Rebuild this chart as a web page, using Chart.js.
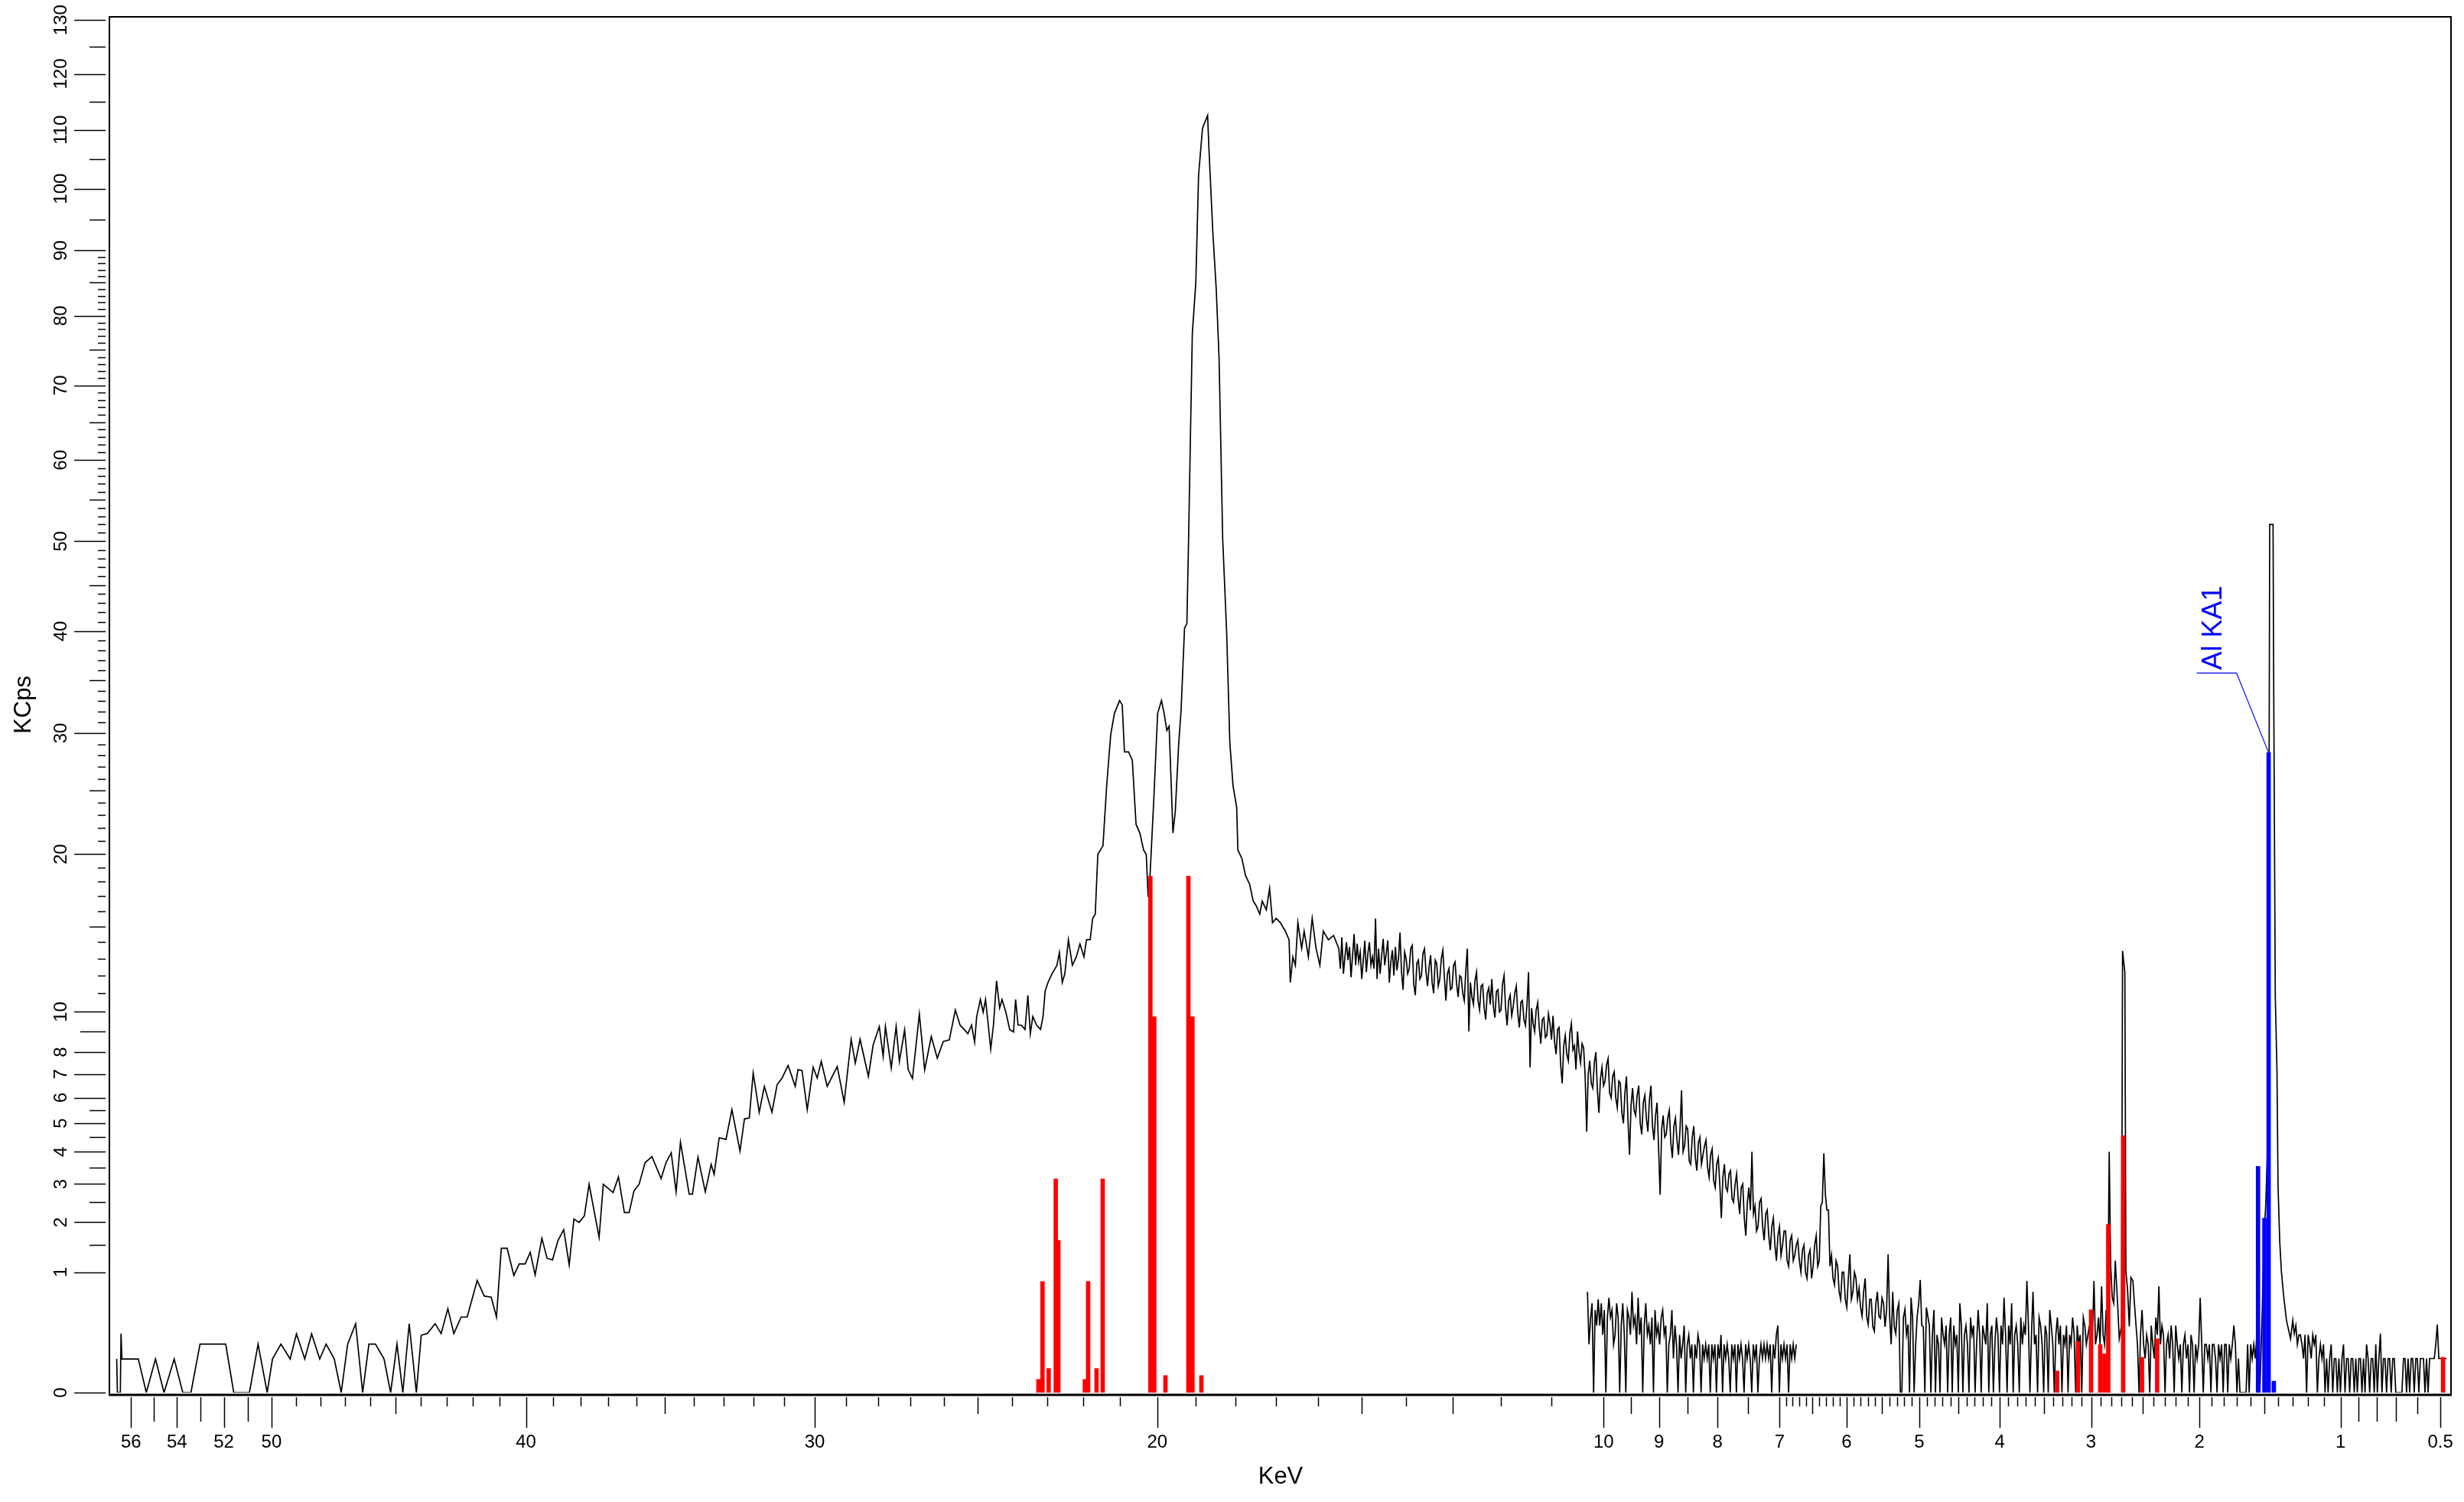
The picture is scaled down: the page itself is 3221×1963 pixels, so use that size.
<!DOCTYPE html>
<html>
<head>
<meta charset="utf-8">
<title>KCps / KeV</title>
<script src="https://cdn.jsdelivr.net/npm/chart.js@4.4.1/dist/chart.umd.min.js"></script>
<style>
  html, body { margin: 0; padding: 0; background: #fff; }
  #wrap { width: 3221px; height: 1963px; }
</style>
</head>
<body>
<div id="wrap"><canvas id="spectrum" width="3221" height="1963"></canvas></div>
<script>
// ---- data ----------------------------------------------------------------

// main trace, high-energy side, point by point: [keV, KCps]
const traceHigh = [
  [56.63, 0.078], [56.60, 0], [56.47, 0], [56.44, 0.24], [56.40, 0.078], [55.68, 0.078], [55.33, 0],
  [54.93, 0.078], [54.56, 0], [54.12, 0.078], [53.75, 0], [53.40, 0], [53.01, 0.162], [51.92, 0.162],
  [51.58, 0], [50.92, 0], [50.56, 0.162], [50.18, 0], [49.96, 0.078], [49.61, 0.162], [49.23, 0.078],
  [48.97, 0.238], [48.63, 0.078], [48.35, 0.238], [48.02, 0.078], [47.76, 0.162], [47.43, 0.078],
  [47.15, 0], [46.89, 0.162], [46.57, 0.327], [46.29, 0], [46.04, 0.162], [45.78, 0.162], [45.44, 0.078],
  [45.18, 0], [44.93, 0.162], [44.70, 0], [44.45, 0.327],
  [44.17, 0], [43.98, 0.227], [43.75, 0.24], [43.44, 0.328], [43.21, 0.24], [42.95, 0.486], [42.72, 0.24],
  [42.44, 0.394], [42.21, 0.394], [41.83, 0.867], [41.56, 0.642], [41.30, 0.629], [41.10, 0.394],
  [40.92, 1.436], [40.70, 1.436], [40.45, 0.946], [40.25, 1.142], [40.03, 1.142], [39.84, 1.358],
  [39.66, 0.956], [39.41, 1.642], [39.22, 1.245], [39.02, 1.214], [38.82, 1.593], [38.61, 1.831],
  [38.41, 1.125], [38.24, 2.077], [38.05, 1.998], [37.86, 2.157], [37.69, 2.995], [37.33, 1.663],
  [37.18, 2.995], [36.83, 2.761], [36.64, 3.209], [36.43, 2.239], [36.26, 2.239], [36.09, 2.807],
  [35.91, 2.995], [35.70, 3.647], [35.46, 3.839], [35.14, 3.160], [34.97, 3.647], [34.79, 3.970],
  [34.62, 2.779], [34.47, 4.329], [34.17, 2.716], [34.06, 2.716], [33.87, 3.828], [33.62, 2.779],
  [33.42, 3.595], [33.32, 3.288], [33.15, 4.479], [32.92, 4.421], [32.72, 5.526], [32.45, 4.025],
  [32.30, 5.169], [32.14, 5.207], [32.01, 7.044], [31.81, 5.423], [31.64, 6.471], [31.39, 5.423],
  [31.22, 6.541], [31.06, 6.826], [30.86, 7.385], [30.63, 6.471], [30.54, 7.191], [30.41, 7.162],
  [30.24, 5.526], [30.05, 7.310], [29.92, 6.826], [29.79, 7.566], [29.60, 6.471], [29.28, 7.340],
  [29.06, 5.815], [28.84, 8.615], [28.71, 7.490], [28.56, 8.615], [28.30, 6.898], [28.15, 8.343],
  [27.96, 9.242], [27.84, 7.795], [27.77, 9.242], [27.59, 7.266], [27.44, 9.242], [27.34, 7.566],
  [27.18, 9.075], [27.07, 7.191], [26.94, 6.806], [26.73, 9.890], [26.57, 7.191], [26.37, 8.746],
  [26.19, 7.718], [26.01, 8.503], [25.83, 8.583], [25.65, 10.099],
  [25.51, 9.317], [25.39, 9.101], [25.28, 8.889], [25.17, 9.317], [25.08, 8.471], [25.02, 9.755],
  [24.91, 10.661], [24.83, 9.978], [24.76, 10.661], [24.68, 9.317], [24.61, 8.143], [24.53, 9.317],
  [24.44, 11.705], [24.35, 10.203], [24.28, 10.661], [24.17, 9.978], [24.06, 9.101], [23.95, 8.973],
  [23.89, 10.661], [23.82, 9.317], [23.73, 9.317], [23.62, 9.101], [23.54, 10.894], [23.47, 8.889],
  [23.40, 9.755], [23.29, 9.317], [23.18, 9.101], [23.11, 9.755], [23.05, 11.130], [22.97, 11.608],
  [22.86, 12.097], [22.72, 12.595], [22.65, 13.362], [22.57, 11.608], [22.50, 12.097], [22.40, 14.151],
  [22.29, 12.595], [22.18, 13.104], [22.08, 13.885], [21.97, 13.104], [21.90, 14.151], [21.80, 14.151],
  [21.73, 15.517], [21.66, 15.798], [21.59, 19.993], [21.45, 20.633], [21.35, 25.391], [21.24, 29.863],
  [21.14, 31.833], [21.00, 33.045], [20.93, 32.639], [20.87, 28.332], [20.76, 28.332], [20.66, 27.582],
  [20.56, 22.275], [20.46, 21.610], [20.36, 20.311], [20.29, 19.993], [20.24, 16.946], [20.19, 18.438],
  [20.09, 24.330], [19.99, 31.833], [19.89, 33.045], [19.82, 31.833], [19.75, 30.252], [19.69, 30.644],
  [19.59, 21.610], [19.53, 23.29], [19.44, 29.093], [19.38, 32.074], [19.29, 40.343], [19.23, 40.795],
  [19.19, 49.359], [19.09, 77.429], [19.00, 85.102], [18.93, 102.25], [18.83, 110.30], [18.70, 112.55],
  [18.67, 107.3], [18.57, 93.14], [18.48, 83.80], [18.41, 73.73], [18.35, 57.66], [18.32, 50.36],
  [18.22, 39.89], [18.14, 29.09], [18.06, 25.39], [17.97, 23.64], [17.94, 20.31], [17.84, 19.68],
  [17.75, 18.44], [17.65, 17.84], [17.56, 16.66], [17.49, 16.37], [17.40, 15.80], [17.34, 16.66],
  [17.24, 16.08], [17.16, 17.54], [17.09, 15.24], [17.00, 15.52], [16.90, 15.24], [16.78, 14.69],
  [16.69, 14.15], [16.66, 11.61], [16.60, 13.10], [16.54, 12.60], [16.48, 15.24], [16.39, 13.62],
  [16.33, 14.69], [16.23, 13.10], [16.14, 15.52], [16.05, 13.62], [15.96, 12.60], [15.88, 14.69],
  [15.76, 14.15], [15.64, 14.42]
];

// noisy stretches, read at equal steps along the keV axis: [first keV, last keV] + values
const tailRange = [15.519, 4.908];
const tailKCps = [
  13.6, 12.4, 14.3, 12.1, 13.1, 14.0, 12.9, 13.7, 11.9, 13.2, 14.5, 12.6, 13.9, 12.8, 13.4, 11.8, 12.9, 14.1, 12.2, 13.3,
  14.0, 12.6, 13.1, 12.4, 15.5, 11.8, 13.6, 12.1, 13.2, 14.2, 12.6, 13.3, 14.1, 11.6, 12.8, 13.5, 12.0, 13.7, 12.3, 13.0,
  14.6, 12.2, 11.2, 13.4, 13.0, 12.1, 12.4, 13.6, 13.8, 11.5, 10.9, 12.7, 12.9, 11.8, 12.0, 13.3, 13.6, 12.2, 11.4, 12.5,
  13.2, 11.6, 11.0, 12.9, 12.7, 11.4, 11.8, 13.0, 13.5, 11.9, 10.6, 12.1, 12.4, 11.2, 11.3, 12.6, 12.8, 11.5, 10.8, 12.0,
  11.9, 11.0, 10.6, 12.3, 13.6, 9.0, 11.6, 10.8, 10.4, 11.7, 12.2, 10.6, 10.1, 11.4, 11.5, 10.2, 9.6, 11.0, 11.3, 10.4,
  11.8, 10.3, 9.7, 11.1, 11.2, 10.0, 10.1, 11.5, 12.0, 10.2, 9.3, 10.6, 10.9, 9.8, 10.3, 11.0, 11.4, 9.9, 9.2, 10.5,
  10.6, 9.6, 9.3, 10.4, 12.2, 7.3, 10.2, 9.4, 9.0, 10.1, 10.5, 9.2, 8.4, 9.6, 9.7, 8.7, 8.8, 9.9, 9.4, 8.6,
  9.8, 8.5, 7.9, 9.1, 9.2, 7.4, 6.6, 8.3, 8.8, 7.9, 7.6, 8.9, 9.4, 8.1, 8.3, 7.2, 9.0, 8.0, 7.5, 8.4,
  8.2, 6.9, 4.7, 7.0, 7.6, 6.6, 6.4, 7.5, 8.0, 6.3, 5.4, 6.8, 7.3, 6.5, 6.7, 7.4, 7.7, 6.2, 6.0, 6.9,
  7.1, 6.0, 5.6, 6.7, 6.6, 5.4, 5.0, 6.2, 6.9, 5.1, 3.9, 5.7, 6.4, 5.5, 5.3, 6.1, 6.5, 5.0, 4.6, 5.8,
  6.1, 5.2, 4.7, 5.9, 6.5, 4.9, 4.4, 5.3, 5.8, 4.1, 2.7, 4.8, 5.3, 4.5, 4.6, 5.2, 5.5, 4.3, 3.8, 4.9,
  5.2, 4.4, 3.9, 4.8, 6.3, 4.0, 4.2, 4.9, 4.8, 3.7, 3.6, 4.5, 4.9, 3.8, 3.4, 4.3, 4.5, 3.6, 3.9, 4.2,
  4.4, 3.5, 3.2, 3.9, 4.1, 3.1, 2.9, 3.6, 3.8, 3.0, 2.1, 3.2, 3.6, 2.9, 2.8, 3.3, 3.4, 2.6, 2.5, 3.0,
  3.3, 2.6, 2.2, 2.9, 3.0, 2.1, 1.7, 2.5, 2.9, 2.3, 4.0, 2.2, 2.4, 1.8, 1.9, 2.5, 2.6, 1.9, 1.6, 2.2,
  2.3, 1.7, 1.4, 1.9, 2.1, 1.5, 1.2, 1.7, 1.9, 1.3, 1.5, 1.8, 1.8, 1.2, 1.1, 1.6, 1.7, 1.2, 1.3, 1.5,
  1.6, 1.2, 1.0, 1.4, 1.5, 1.0, 0.9, 1.3, 1.4, 0.9, 1.1, 1.5, 1.7, 1.1, 1.2, 2.4, 2.5, 3.95, 2.7, 2.3,
  2.3, 1.1, 1.3, 0.9, 0.8, 1.2, 1.1, 0.7, 0.6, 1.0, 1.0, 0.6, 0.5, 0.9, 1.32, 0.6, 0.7, 1.0, 0.9, 0.6,
  0.75, 0.5, 0.4, 0.7, 0.9, 0.4, 0.32, 0.6, 0.6, 0.3, 0.26, 0.55, 0.7, 0.4, 0.38, 0.62, 0.55, 0.3, 0.47, 1.32,
  0.4, 0.16, 0.7, 0.3, 0.24, 0.47, 0.55, 0, 0, 0.39, 0.48, 0.23, 0.32, 0, 0.62, 0.39, 0, 0.16, 0.4, 0.55,
  0.875, 0.31, 0.3, 0, 0.5
];

const lowRange = [4.869, 2.759];
const lowKCps = [
  0.31, 0, 0.23, 0.47, 0, 0.23, 0.16, 0, 0.39, 0.23,
  0.16, 0.31, 0, 0.23, 0.39, 0, 0.31, 0.16, 0.23, 0,
  0.55, 0.31, 0, 0.23, 0.31, 0.16, 0, 0.39, 0.23, 0.31,
  0, 0.16, 0.47, 0.23, 0, 0.31, 0.23, 0.16, 0.55, 0,
  0.23, 0.31, 0, 0.16, 0.39, 0.23, 0, 0.31, 0.16, 0.62,
  0.23, 0, 0.31, 0.16, 0.55, 0, 0.23, 0.31, 0.16, 0,
  0.39, 0.16, 0.31, 0.23, 0.86, 0.31, 0, 0.23, 0.7, 0.16,
  0.23, 0, 0.39, 0.31, 0.16, 0, 0.31, 0.23, 0, 0.47,
  0.31, 0.16, 0, 0.23, 0.39, 0.16, 0.31, 0, 0.23, 0.16,
  0.31, 0, 0.23, 0.16, 0.39, 0.23, 0, 0.31, 0.16, 0.23,
  0, 0.39, 0.31, 0.16, 0.23, 0.31, 0, 0.23, 0.86, 0.16,
  0.23, 0.39, 0.16, 0.78, 0.23, 0.16, 0.47, 0.31, 4.0, 1.09,
  0.62, 0.55, 1.2
];

const rhPeak = [
  [2.7367, 0.55], [2.7205, 0.2], [2.699, 0.303], [2.6887, 13.46], [2.6667, 12.19],
  [2.6566, 1.01], [2.6406, 0.73], [2.6244, 0.303], [2.6085, 0.914]
];

const midRange = [2.5902, 1.552];
const midKCps = [
  0.86, 0.55, 0.32, 0.16, 0, 0.24, 0.47, 0.16, 0.08, 0.23,
  0.16, 0, 0.31, 0.16, 0.08, 0.39, 0.23, 0.78, 0.16, 0.31,
  0.23, 0, 0.16, 0.23, 0.08, 0.31, 0.16, 0, 0.31, 0.16,
  0.08, 0.16, 0, 0.16, 0.23, 0.08, 0.16, 0, 0.23, 0.16,
  0, 0.16, 0.08, 0.16, 0.62, 0.16, 0, 0.16, 0.16, 0.08,
  0.16, 0, 0.16, 0.16, 0.08, 0, 0.16, 0.08, 0.16, 0,
  0.16, 0.16, 0, 0.16, 0.08, 0.16, 0.31, 0.16, 0, 0.08,
  0, 0, 0, 0, 0, 0.16, 0, 0.16, 0.08, 0.16,
  0.08, 0.23
];

const alPeak = [
  [1.545, 0.16], [1.530, 0], [1.512, 0.5], [1.4992, 1.72], [1.4872, 2.45], [1.4692, 5.0],
  [1.4593, 52], [1.4355, 52], [1.4317, 36.6], [1.4199, 10.8], [1.4082, 7.2], [1.4007, 2.95],
  [1.3891, 1.59], [1.3774, 1.01], [1.3621, 0.647], [1.3428, 0.36], [1.3149, 0.2]
];

const softRange = [1.3003, 0.4749];
const softKCps = [
  0.36, 0.24, 0.31, 0.16, 0.23, 0.23, 0.16, 0.08, 0.23, 0,
  0.23, 0.16, 0.08, 0.23, 0.16, 0.23, 0, 0.08, 0.16, 0.08,
  0.16, 0, 0.08, 0, 0.08, 0.16, 0, 0.08, 0.08, 0,
  0.08, 0, 0.08, 0.16, 0, 0.08, 0.08, 0, 0.08, 0.08,
  0, 0.08, 0, 0.08, 0.08, 0, 0.08, 0, 0.16, 0.08,
  0, 0.08, 0.08, 0, 0.16, 0, 0.08, 0.24, 0, 0.08,
  0.08, 0, 0.08, 0.08, 0, 0.08, 0.08, 0, 0, 0,
  0, 0, 0.08, 0.08, 0, 0.08, 0, 0.08, 0.08, 0,
  0.08, 0.08, 0, 0.08, 0.08, 0.08, 0, 0.08, 0, 0.08,
  0.08, 0.08, 0.08, 0.16, 0.32, 0.08, 0.08, 0.08, 0.08, 0.08,
  0.08
];

// second, weak trace between 10.3 and 6.7 keV
const blockRange = [10.303, 6.745];
const blockKCps = [
  0.70, 0.16, 0.38, 0.55, 0, 0.47, 0.31, 0.60, 0.31, 0.55,
  0.23, 0.47, 0, 0.39, 0.62, 0.39, 0.47, 0.16, 0.23, 0.55,
  0.39, 0, 0.31, 0.55, 0.23, 0, 0.47, 0.39, 0.23, 0.70,
  0.31, 0.39, 0.16, 0.62, 0.23, 0.39, 0, 0.31, 0.55, 0.23,
  0.31, 0.16, 0.39, 0, 0.47, 0.23, 0.31, 0.16, 0.39, 0.47,
  0.23, 0.31, 0, 0.16, 0.23, 0.47, 0.08, 0.31, 0.16, 0,
  0.23, 0.08, 0.16, 0.31, 0, 0.16, 0.23, 0.08, 0.16, 0,
  0.16, 0.08, 0.23, 0.16, 0, 0.16, 0.08, 0.16, 0.08, 0.16,
  0, 0.16, 0.08, 0.16, 0, 0.16, 0.08, 0.23, 0, 0.16,
  0.08, 0.16, 0.08, 0, 0.16, 0.08, 0.16, 0, 0.16, 0.08,
  0.16, 0.08, 0, 0.16, 0.08, 0.16, 0.08, 0, 0.16, 0.08,
  0.16, 0, 0.08, 0.16, 0.08, 0.16, 0.08, 0.16, 0.08, 0.16,
  0, 0.16, 0.08, 0.23, 0.31, 0, 0.16, 0.08, 0.16, 0.08,
  0.16, 0, 0.16, 0.08, 0.16, 0.08, 0.16
];

// line markers
const redLinesKeV = [23.24, 23.125, 22.952, 22.752, 22.68, 21.945, 21.855, 21.624, 21.457,
  20.181, 20.08, 19.786, 19.191, 19.087, 18.859,
  3.355, 3.135, 3.0, 2.908, 2.866, 2.828, 2.683, 2.505, 2.366, 0.489];
const redLinesKCps = [0.012, 0.85, 0.04, 3.15, 1.6, 0.012, 0.85, 0.04, 3.15,
  18.4, 9.75, 0.02, 18.4, 9.75, 0.02,
  0.032, 0.18, 0.473, 0.159, 0.104, 1.95, 4.55, 0.086, 0.2, 0.086];
const blueLinesKeV = [1.543, 1.497, 1.4668, 1.430];
const blueLinesKCps = [3.53, 2.1, 28.26, 0.009];
const lineLabel = { text: 'Al KA1', keV: 1.4668, kcps: 28.26 };

// axis labels
const xTickLabels = [56, 54, 52, 50, 40, 30, 20, 10, 9, 8, 7, 6, 5, 4, 3, 2, 1, 0.5];
const yTickLabels = [0, 1, 2, 3, 4, 5, 6, 7, 8, 10, 20, 30, 40, 50, 60, 70, 80, 90, 100, 110, 120, 130];

// ---- helpers ---------------------------------------------------------------

function pairs(list) {
  return list.map(p => ({ x: p[0], y: p[1] }));
}

// values were read at equal steps along the square-root keV axis
function along(range, values) {
  const a = Math.sqrt(range[0]), b = Math.sqrt(range[1]);
  const n = values.length - 1;
  return values.map((v, i) => {
    const s = a + (b - a) * i / n;
    return { x: s * s, y: v };
  });
}

const mainTrace = [].concat(
  pairs(traceHigh), along(tailRange, tailKCps), along(lowRange, lowKCps), pairs(rhPeak),
  along(midRange, midKCps), pairs(alPeak), along(softRange, softKCps)
);
const blockTrace = along(blockRange, blockKCps);

const markerData = [];
const markerColors = [];
redLinesKeV.forEach((e, i) => { markerData.push({ x: e, y: redLinesKCps[i] }); markerColors.push('#ff0000'); });
blueLinesKeV.forEach((e, i) => { markerData.push({ x: e, y: blueLinesKCps[i] }); markerColors.push('#0000ff'); });

// tick marks without labels
const xMid1 = [55, 53, 51, 0.9, 0.8, 0.7];
const xMid2 = [45, 35, 25, 15, 13, 9.5, 8.5, 7.5, 6.5, 5.5, 4.5, 3.5, 2.5, 1.5, 0.6];
const xMinor = [];
for (let k = 11; k <= 49; k++) if (k % 5 !== 0 && k !== 13) xMinor.push(k);
for (let t = 11; t <= 69; t++) if (t % 5 !== 0) xMinor.push(t / 10);
const yMid = [1.5, 2.5, 3.5, 4.5, 5.5];
for (let k = 15; k <= 125; k += 10) yMid.push(k);
const yMinor = [];
for (let k = 11; k <= 89; k++) if (k % 5 !== 0) yMinor.push(k);

// ---- square-root scale -----------------------------------------------------

class SqrtScale extends Chart.LinearScale {
  bounds() { return [Math.sqrt(Math.max(this.min, 0)), Math.sqrt(this.max)]; }
  getPixelForValue(value) {
    if (value === null || value === undefined || isNaN(value)) return NaN;
    const [lo, hi] = this.bounds();
    return this.getPixelForDecimal((Math.sqrt(Math.max(value, 0)) - lo) / (hi - lo));
  }
  getValueForPixel(pixel) {
    const [lo, hi] = this.bounds();
    const s = lo + this.getDecimalForPixel(pixel) * (hi - lo);
    return s * s;
  }
}
SqrtScale.id = 'sqrt';
SqrtScale.defaults = {};
Chart.register(SqrtScale);

// frame, tick marks and the line label
const decorations = {
  id: 'decorations',
  afterDraw(chart) {
    const { ctx, chartArea: a, scales: { x, y } } = chart;
    ctx.save();
    ctx.strokeStyle = '#000';
    ctx.lineWidth = 1.5;
    ctx.beginPath();
    const xTop = a.bottom + 6;
    [[xTickLabels, 40], [xMid1, 32], [xMid2, 22], [xMinor, 12]].forEach(([vals, len]) => {
      vals.forEach(v => {
        const px = Math.round(x.getPixelForValue(v)) + 0.5;
        ctx.moveTo(px, xTop);
        ctx.lineTo(px, xTop + len);
      });
    });
    const yRight = a.left - 6;
    [[yTickLabels, 41], [[9], 33], [yMid, 21], [yMinor, 10]].forEach(([vals, len]) => {
      vals.forEach(v => {
        const py = Math.round(y.getPixelForValue(v)) + 0.5;
        ctx.moveTo(yRight, py);
        ctx.lineTo(yRight - len, py);
      });
    });
    ctx.stroke();

    ctx.lineWidth = 2;
    ctx.beginPath();
    ctx.moveTo(a.left - 1, a.bottom + 3);
    ctx.lineTo(a.left - 1, a.top);
    ctx.lineTo(a.right, a.top);
    ctx.lineTo(a.right, a.bottom + 3);
    ctx.stroke();
    ctx.lineWidth = 3;
    ctx.beginPath();
    ctx.moveTo(a.left - 2, a.bottom + 3);
    ctx.lineTo(a.right + 1, a.bottom + 3);
    ctx.stroke();

    // label of the Al line
    const tipX = x.getPixelForValue(lineLabel.keV);
    const tipY = y.getPixelForValue(lineLabel.kcps);
    const elbowX = tipX - 42, elbowY = tipY - 104;
    ctx.strokeStyle = '#0000ff';
    ctx.lineWidth = 1.2;
    ctx.beginPath();
    ctx.moveTo(tipX, tipY);
    ctx.lineTo(elbowX, elbowY);
    ctx.lineTo(elbowX - 52, elbowY);
    ctx.stroke();
    ctx.translate(elbowX - 30, elbowY - 4);
    ctx.rotate(-Math.PI / 2);
    ctx.fillStyle = '#0000ff';
    ctx.font = '36px "Liberation Sans", Arial, sans-serif';
    ctx.textAlign = 'left';
    ctx.textBaseline = 'middle';
    ctx.fillText(lineLabel.text, 0, 0);
    ctx.restore();
  }
};

Chart.defaults.font.family = '"Liberation Sans", Arial, sans-serif';
Chart.defaults.color = '#000';

new Chart(document.getElementById('spectrum'), {
  type: 'line',
  data: {
    datasets: [
      {
        type: 'bar',
        data: markerData,
        backgroundColor: markerColors,
        borderWidth: 0,
        barThickness: 5
      },
      {
        data: mainTrace,
        borderColor: '#000',
        borderWidth: 1.7,
        pointRadius: 0,
        tension: 0,
        fill: false
      },
      {
        data: blockTrace,
        borderColor: '#000',
        borderWidth: 1.7,
        pointRadius: 0,
        tension: 0,
        fill: false
      }
    ]
  },
  options: {
    responsive: false,
    animation: false,
    devicePixelRatio: 1,
    events: [],
    layout: { padding: { top: 22, right: 17, bottom: 0, left: 0 } },
    plugins: { legend: { display: false }, tooltip: { enabled: false } },
    scales: {
      x: {
        type: 'sqrt',
        reverse: true,
        min: 0.457,
        max: 56.92,
        offset: false,
        bounds: 'data',
        grid: { display: false, drawTicks: false },
        border: { display: false },
        afterBuildTicks: s => { s.ticks = xTickLabels.map(v => ({ value: v })); },
        afterFit: s => { s.height = 143; s.paddingLeft = 0; s.paddingRight = 0; },
        ticks: {
          autoSkip: false, minRotation: 0, maxRotation: 0, padding: 51,
          font: { size: 24 }, callback: v => String(v)
        },
        title: { display: true, text: 'KeV', font: { size: 31 }, padding: { top: 0, bottom: 14 } }
      },
      y: {
        type: 'sqrt',
        min: 0,
        max: 130.6,
        bounds: 'data',
        grid: { display: false, drawTicks: false },
        border: { display: false },
        afterBuildTicks: s => { s.ticks = yTickLabels.map(v => ({ value: v })); },
        afterFit: s => { s.width = 144; s.paddingTop = 0; s.paddingBottom = 0; },
        ticks: {
          autoSkip: false, minRotation: 90, maxRotation: 90, crossAlign: 'center', padding: 44,
          font: { size: 24 }, callback: v => String(v)
        },
        title: { display: true, text: 'KCps', font: { size: 31 }, padding: { top: 13, bottom: 0 } }
      }
    }
  },
  plugins: [decorations]
});
</script>
</body>
</html>
